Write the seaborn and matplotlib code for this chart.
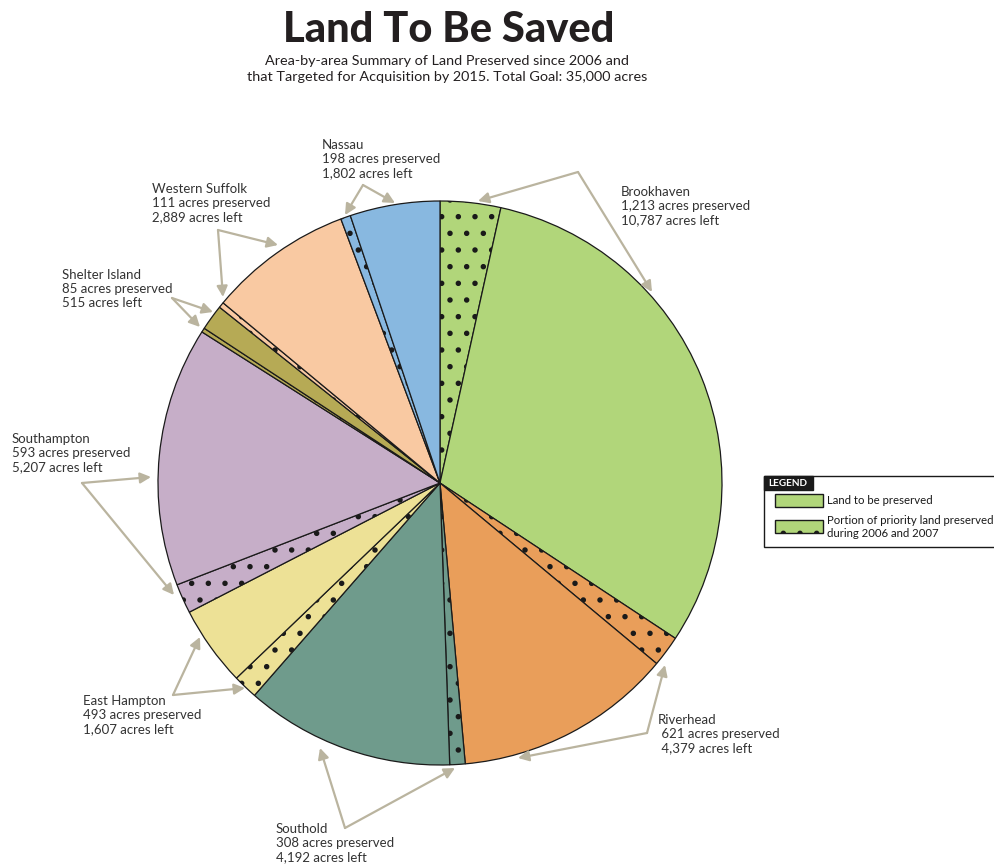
import matplotlib
matplotlib.use("Agg")
import matplotlib.pyplot as plt
import matplotlib.patches as patches
import seaborn as sns

# data, clockwise from the top
regions = ["Brookhaven", "Riverhead", "Southold", "East Hampton",
           "Southampton", "Shelter Island", "Western Suffolk", "Nassau"]
preserved = [1213, 621, 308, 493, 593, 85, 111, 198]
acres_left = [10787, 4379, 4192, 1607, 5207, 515, 2889, 1802]
region_colors = ["#b1d67a", "#e99e5a", "#6f9b8c", "#ede196",
                 "#c6aec8", "#b6aa55", "#f9c9a2", "#88b8e0"]

sns.set_style("white")
plt.rcParams['font.family'] = ['Lato', 'DejaVu Sans']
plt.rcParams['hatch.color'] = '#1a1a1a'
plt.rcParams['hatch.linewidth'] = 1.5

tan = "#bab49f"
txt = "#333333"

fig = plt.figure(figsize=(9.95, 8.65), dpi=100)
ax = fig.add_axes([0, 0, 1, 1])

# each region = preserved slice (dotted) then the rest
sizes, colors, hatches = [], [], []
for p, l, c in zip(preserved, acres_left, region_colors):
    sizes += [p, l]
    colors += [c, c]
    hatches += ['.', '']

# y axis is flipped below, so counterclock=True draws clockwise on screen
wedges, _ = ax.pie(sizes, colors=colors, startangle=-90, counterclock=True,
                   center=(440, 483), radius=282,
                   wedgeprops=dict(edgecolor='#1a1a1a', linewidth=0.9))
for w, h in zip(wedges, hatches):
    w.set_hatch(h)

ax.set_xlim(0, 995)
ax.set_ylim(865, 0)
ax.set_aspect('equal')
ax.axis('off')

# labels: text position, arrow vertex, two arrow heads (pixels)
label_pos = {
    "Brookhaven": (621, 206),
    "Riverhead": (658, 734),
    "Southold": (276, 843),
    "East Hampton": (83, 715),
    "Southampton": (12, 453),
    "Shelter Island": (62, 289),
    "Western Suffolk": (152, 203),
    "Nassau": (322, 159),
}
arrows = {
    "Brookhaven": ((578, 172), [(478, 201), (652, 292)]),
    "Riverhead": ((647, 733), [(665, 665), (518, 758)]),
    "Southold": ((345, 828), [(320, 748), (455, 768)]),
    "East Hampton": ((173, 695), [(200, 637), (245, 688)]),
    "Southampton": ((82, 483), [(151, 477), (174, 595)]),
    "Shelter Island": ((172, 298), [(213, 312), (200, 327)]),
    "Western Suffolk": ((218, 230), [(278, 245), (223, 297)]),
    "Nassau": ((363, 185), [(345, 215), (395, 203)]),
}

for name, p, l in zip(regions, preserved, acres_left):
    ind = " " if name == "Riverhead" else ""
    label = f"{name}\n{ind}{p:,} acres preserved\n{ind}{l:,} acres left"
    x, y = label_pos[name]
    ax.text(x, y, label, ha='left', va='center', fontsize=9.5, color=txt,
            linespacing=1.22)
    vtx, heads = arrows[name]
    for hd in heads:
        ax.annotate('', xy=hd, xytext=vtx,
                    arrowprops=dict(arrowstyle='-|>', color=tan, lw=1.6,
                                    mutation_scale=16, shrinkA=0, shrinkB=0))

# title
ax.text(449, 30, "Land To Be Saved", ha='center', va='center',
        fontsize=30, fontweight='black', color='#231f20')
ax.text(447, 69, "Area-by-area Summary of Land Preserved since 2006 and\n"
        "that Targeted for Acquisition by 2015. Total Goal: 35,000 acres",
        ha='center', va='center', fontsize=10.4, color='#231f20',
        linespacing=1.45)

# legend box (runs off the right edge)
ax.add_patch(patches.Rectangle((764, 476), 260, 71, fill=False,
                               edgecolor='#1a1a1a', lw=1, clip_on=False))
ax.add_patch(patches.Rectangle((764, 476), 49, 14, facecolor='#1a1a1a',
                               edgecolor='#1a1a1a', clip_on=False))
ax.text(788, 483.5, "LEGEND", ha='center', va='center', color='white',
        fontsize=7.2, fontweight='bold')
ax.add_patch(patches.Rectangle((775, 494), 48, 13, facecolor=region_colors[0],
                               edgecolor='#1a1a1a', lw=1))
ax.add_patch(patches.Rectangle((775, 520), 48, 13, facecolor=region_colors[0],
                               edgecolor='#1a1a1a', lw=1, hatch='.'))
ax.text(827, 501, "Land to be preserved", ha='left', va='center',
        fontsize=8.2, color='#1a1a1a')
ax.text(827, 527, "Portion of priority land preserved\nduring 2006 and 2007",
        ha='left', va='center', fontsize=8.2, color='#1a1a1a',
        linespacing=1.2)

fig.savefig("out.png", dpi=100)
